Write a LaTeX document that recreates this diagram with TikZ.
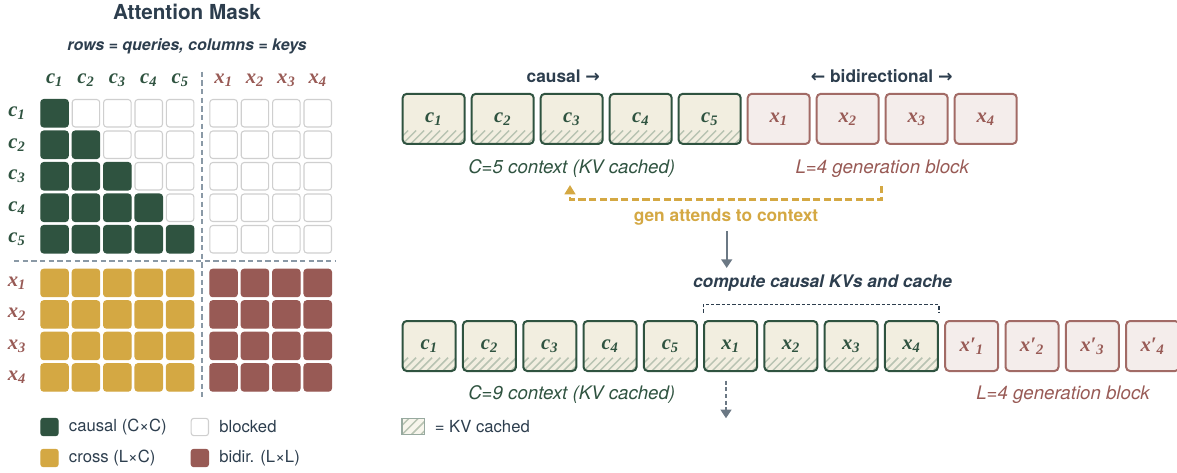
\documentclass[tikz,border=0pt]{standalone}
\usepackage{fontspec}
\setmainfont{TeX Gyre Heros}
\newfontfamily\lblfont{Liberation Serif}
\newfontfamily\symfont{DejaVu Sans}
\usetikzlibrary{arrows.meta,positioning,calc}

\definecolor{ink}{HTML}{2D3E4E}
\definecolor{causalgreen}{HTML}{2F5340}
\definecolor{crossgold}{HTML}{D4A843}
\definecolor{bidirred}{HTML}{985A55}
\definecolor{cream}{HTML}{F2EEE0}
\definecolor{blush}{HTML}{F4EDEB}
\definecolor{blockedgray}{HTML}{CFCFCF}
\definecolor{sepgray}{HTML}{8A99A6}
\definecolor{hatchgray}{HTML}{B8C3B2}
\definecolor{arrowgray}{HTML}{6B7884}

% token labels: italic serif with italic subscript
\newcommand{\tok}[2]{{\lblfont\bfseries\itshape #1\textsubscript{#2}}}
\newcommand{\tokp}[2]{{\lblfont\bfseries\itshape #1′\textsubscript{#2}}}
\newcommand{\fsz}[1]{\fontsize{#1}{#1}\selectfont}

\begin{document}
\begin{tikzpicture}[
    x=0.75pt, y=-0.75pt,
    cell/.style={rectangle, rounded corners=2.2pt, minimum size=20.6pt, inner sep=0pt, line width=0.8pt},
    blocked/.style={cell, fill=white, draw=blockedgray},
    toklbl/.style={font=\fsz{15.5}, inner sep=1pt},
    tokbox/.style={rectangle, rounded corners=3pt, line width=1.5pt, inner sep=0pt, minimum height=37.5pt, font=\fsz{15.5}},
    hatched/.style={path picture={\foreach \h in {-2,...,9}{\draw[hatchgray, line width=1.1pt] ([xshift=\h*6pt]path picture bounding box.south west) -- ++(10pt,10pt);}}},
    ctxbox/.style={tokbox, draw=causalgreen, fill=cream, text=causalgreen, hatched},
    genbox/.style={tokbox, draw=bidirred!90, fill=blush, text=bidirred},
    legsq/.style={rectangle, rounded corners=2pt, minimum size=13pt, inner sep=0pt, line width=0.8pt},
    legtxt/.style={font=\fsz{12.5}, text=ink, inner sep=0pt, anchor=west},
    heading/.style={font=\fsz{13}\bfseries, text=ink},
    sep/.style={sepgray, line width=1.3pt, dash pattern=on 4pt off 2.5pt},
    goldarrow/.style={draw=crossgold, line width=1.9pt, dash pattern=on 5.5pt off 2.5pt, -{Triangle[width=8pt,length=7pt]}},
    flow/.style={draw=arrowgray, line width=1.6pt, -{Triangle[width=8pt,length=6.5pt]}}
]
\useasboundingbox (0,0) rectangle (1177,472);

% Attention mask
\node[font=\fsz{15.5}\bfseries, text=ink] (title) at (187,12) {Attention Mask};
\node[font=\fsz{12}\bfseries\itshape, text=ink] (subtitle) at (187,46.7) {rows = queries, columns = keys};

\foreach \c in {1,...,5}
    \node[toklbl, text=causalgreen] (hc\c) at ({54.55+31.4*(\c-1)},80) {\tok{c}{\c}};
\foreach \c in {1,...,4}
    \node[toklbl, text=bidirred] (hx\c) at ({223.55+31.4*(\c-1)},80) {\tok{x}{\c}};

\foreach \r in {1,...,5}{
    \node[toklbl, text=causalgreen] (rc\r) at (17,{113.25+31.5*(\r-1)}) {\tok{c}{\r}};
    \foreach \c in {1,...,5}{
        \ifnum\c>\r \def\cf{white}\def\cd{blockedgray}\else\def\cf{causalgreen}\def\cd{causalgreen}\fi
        \node[cell, fill=\cf, draw=\cd] (m-c\r-c\c) at ({54.55+31.4*(\c-1)},{113.25+31.5*(\r-1)}) {};
    }
    \foreach \c in {1,...,4}
        \node[blocked] (m-c\r-x\c) at ({223.55+31.4*(\c-1)},{113.25+31.5*(\r-1)}) {};
}
\foreach \r in {1,...,4}{
    \node[toklbl, text=bidirred] (rx\r) at (17,{282.95+31.5*(\r-1)}) {\tok{x}{\r}};
    \foreach \c in {1,...,5}
        \node[cell, fill=crossgold, draw=crossgold] (m-x\r-c\c) at ({54.55+31.4*(\c-1)},{282.95+31.5*(\r-1)}) {};
    \foreach \c in {1,...,4}
        \node[cell, fill=bidirred, draw=bidirred] (m-x\r-x\c) at ({223.55+31.4*(\c-1)},{282.95+31.5*(\r-1)}) {};
}
\draw[sep] (201.7,71.7) -- (201.7,396.7);
\draw[sep] (14,261) -- (335,261);

% Legend
\node[legsq, fill=causalgreen, draw=causalgreen] (lg-causal) at (49.5,427) {};
\node[legtxt, right=7.5pt of lg-causal] {causal (C×C)};
\node[legsq, fill=white, draw=blockedgray] (lg-blocked) at (199.85,427) {};
\node[legtxt, right=7.5pt of lg-blocked] {blocked};
\node[legsq, fill=crossgold, draw=crossgold] (lg-cross) at (49.5,458) {};
\node[legtxt, right=7.5pt of lg-cross] {cross (L×C)};
\node[legsq, fill=bidirred, draw=bidirred] (lg-bidir) at (199.85,458) {};
\node[legtxt, right=7.5pt of lg-bidir] {bidir. (L×L)};

% Step 1: context + generation block
\foreach \k in {1,...,5}
    \node[ctxbox, minimum width=46.5pt] (tc\k) at ({433.7+69*(\k-1)},118.85) {\tok{c}{\k}};
\foreach \k in {1,...,4}
    \node[genbox, minimum width=46.5pt] (tx\k) at ({778.7+69*(\k-1)},118.85) {\tok{x}{\k}};

\node[heading] (causal-hd) at (563.3,76) {causal {\symfont →}};
\node[heading] (bidir-hd) at (881.7,76) {{\symfont ←} bidirectional {\symfont →}};
\node[font=\fsz{14}\itshape, text=causalgreen] (ctx1) at (571.7,168.3) {C=5 context (KV cached)};
\node[font=\fsz{14}\itshape, text=bidirred] (gen1) at (882.2,168.3) {L=4 generation block};

\coordinate (ga) at (881.7,186);
\coordinate (gb) at (570,185);
\draw[goldarrow] (ga) -- ++(0,13.3) -| (gb);
\node[font=\fsz{13}\bfseries, text=crossgold] (attend) at (726,216.7) {gen attends to context};

\coordinate (fa) at (726.7,231);
\coordinate (fb) at (726.7,268);
\draw[flow] (fa) -- (fb);
\node[heading, font=\fsz{13}\bfseries\itshape] (compute) at (822.5,282.7) {compute causal KVs and cache};

% Step 2: grown context + next block
\foreach \k in {1,...,5}
    \node[ctxbox, minimum width=39.75pt] (bc\k) at ({429.2+60.28*(\k-1)},346) {\tok{c}{\k}};
\foreach \k in {1,...,4}
    \node[ctxbox, minimum width=39.75pt] (bx\k) at ({429.2+60.28*(\k+4)},346) {\tok{x}{\k}};
\foreach \k in {1,...,4}
    \node[genbox, minimum width=39.75pt] (bg\k) at ({429.2+60.28*(\k+8)},346) {\tokp{x}{\k}};

\draw[ink, line width=0.9pt, dash pattern=on 2.5pt off 1.5pt]
    ([yshift=5.5pt]bx1.north west) -- ([yshift=11.5pt]bx1.north west) -| ([yshift=5.5pt]bx4.north east);

\node[font=\fsz{14}\itshape, text=causalgreen] (ctx2) at (571.7,395) {C=9 context (KV cached)};
\node[font=\fsz{14}\itshape, text=bidirred] (gen2) at (1063,395) {L=4 generation block};

\coordinate (da) at (726,380.7);
\coordinate (db) at (726,418.3);
\draw[flow, line width=1.8pt, dash pattern=on 3pt off 2pt] (da) -- (db);

\node[rectangle, minimum width=17pt, minimum height=12pt, inner sep=0pt, fill=cream!60, draw=causalgreen!50, line width=0.8pt,
    path picture={\foreach \h in {-2,...,3}{\draw[hatchgray, line width=1.1pt] ([xshift=\h*7pt]path picture bounding box.south west) -- ++(14pt,14pt);}}]
    (kv-key) at (413.35,426.65) {};
\node[legtxt, right=7pt of kv-key] {= KV cached};

\end{tikzpicture}
\end{document}
